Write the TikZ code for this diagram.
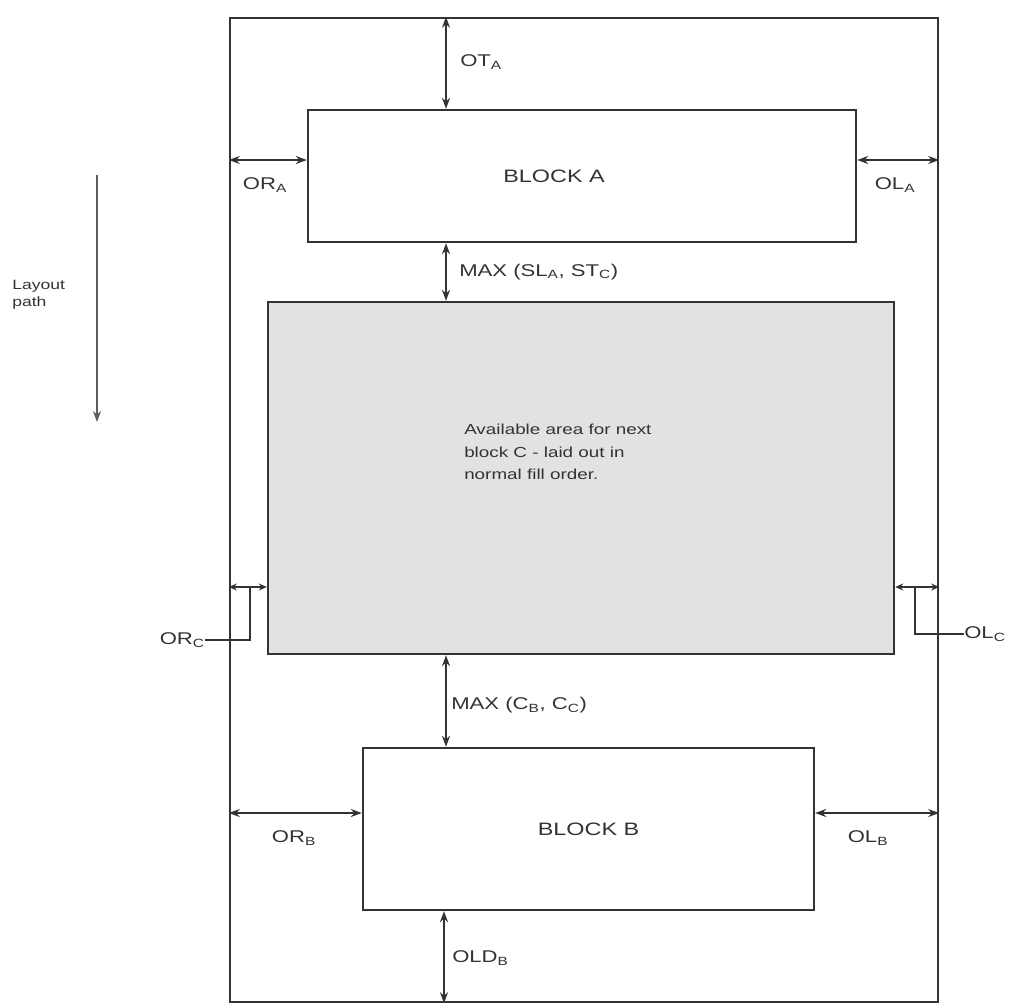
\documentclass[tikz,border=0pt]{standalone}
\usepackage{fontspec}
\setmainfont{Liberation Sans}
\usetikzlibrary{arrows.meta}
\definecolor{ink}{HTML}{333333}
\definecolor{areafill}{HTML}{E2E2E2}
\begin{document}
\begin{tikzpicture}[x=1pt,y=1pt,
  box/.style={draw=ink, line width=2.4pt, inner sep=0pt},
  dim/.style={draw=ink, line width=1.6pt, {Stealth[length=11pt,width=8pt]}-{Stealth[length=11pt,width=8pt]}},
  sdim/.style={draw=ink, line width=1.6pt, {Stealth[length=8pt,width=7pt]}-{Stealth[length=8pt,width=7pt]}},
  lead/.style={draw=ink, line width=1.3pt},
  lbl/.style={text=ink, inner sep=0pt, xscale=1.3, transform shape, font=\fontsize{17}{20}\selectfont},
  big/.style={text=ink, inner sep=0pt, xscale=1.3, transform shape, font=\fontsize{18}{21}\selectfont}
]
\useasboundingbox (0,0) rectangle (1010,-1005);
% boxes
\node[box, minimum width=708, minimum height=984] (frame) at (584,-510) {};
\node[box, fill=areafill, minimum width=626, minimum height=352] (C) at (581,-478) {};
\node[box, fill=white, minimum width=548, minimum height=132] (A) at (582,-176) {};
\node[box, fill=white, minimum width=451, minimum height=162] (B) at (588.5,-829) {};
\node[big] (Alab) at (554,-176) {BLOCK A};
\node[big] (Blab) at (B.center) {BLOCK B};
\node[lbl, align=left, anchor=north west, font=\fontsize{14.5}{22.5}\selectfont] (ctext) at (464,-424) {Available area for next\\block C - laid out in\\normal fill order.};
% layout path
\node[lbl, align=left, anchor=west, font=\fontsize{13.5}{17}\selectfont] (lp) at (12,-295) {Layout\\path};
\coordinate (lpt) at (97,-175);
\coordinate (lpb) at (97,-422);
\draw[draw=ink!80, line width=1.6pt, -{Stealth[length=11pt,width=8pt]}] (lpt) -- (lpb);
% vertical dims
\coordinate (xa) at (446,0);
\draw[dim] (frame.north -| xa) -- (A.north -| xa);
\node[lbl, anchor=west] (ot) at (460,-62) {OT\textsubscript{A}};
\draw[dim] (A.south -| xa) -- (C.north -| xa);
\node[lbl, anchor=west] (mx1) at (459,-272) {MAX (SL\textsubscript{A}, ST\textsubscript{C})};
\draw[dim] (C.south -| xa) -- (B.north -| xa);
\node[lbl, anchor=west] (mx2) at (451,-705) {MAX (C\textsubscript{B}, C\textsubscript{C})};
\coordinate (xb) at (444,0);
\draw[dim] (B.south -| xb) -- (frame.south -| xb);
\node[lbl, anchor=west] (old) at (452,-958) {OLD\textsubscript{B}};
% horizontal dims
\coordinate (ya) at (0,-160);
\draw[dim] (frame.west |- ya) -- (A.west |- ya);
\node[lbl] (ora) at (265,-185) {OR\textsubscript{A}};
\draw[dim] (A.east |- ya) -- (frame.east |- ya);
\node[lbl] (ola) at (895,-185) {OL\textsubscript{A}};
\coordinate (yb) at (0,-813);
\draw[dim] (frame.west |- yb) -- (B.west |- yb);
\node[lbl] (orb) at (294,-838) {OR\textsubscript{B}};
\draw[dim] (B.east |- yb) -- (frame.east |- yb);
\node[lbl] (olb) at (868,-838) {OL\textsubscript{B}};
% C side gaps
\coordinate (yc) at (0,-587);
\draw[sdim] (frame.west |- yc) -- (C.west |- yc);
\draw[sdim] (C.east |- yc) -- (frame.east |- yc);
\node[lbl, anchor=east] (orc) at (205,-640) {OR\textsubscript{C}};
\coordinate (orcup) at (250,-587);
\draw[lead] (orcup) |- (orc.east);
\node[lbl, anchor=west] (olc) at (964,-634) {OL\textsubscript{C}};
\coordinate (olcup) at (915,-587);
\draw[lead] (olcup) |- (olc.west);
\end{tikzpicture}
\end{document}
